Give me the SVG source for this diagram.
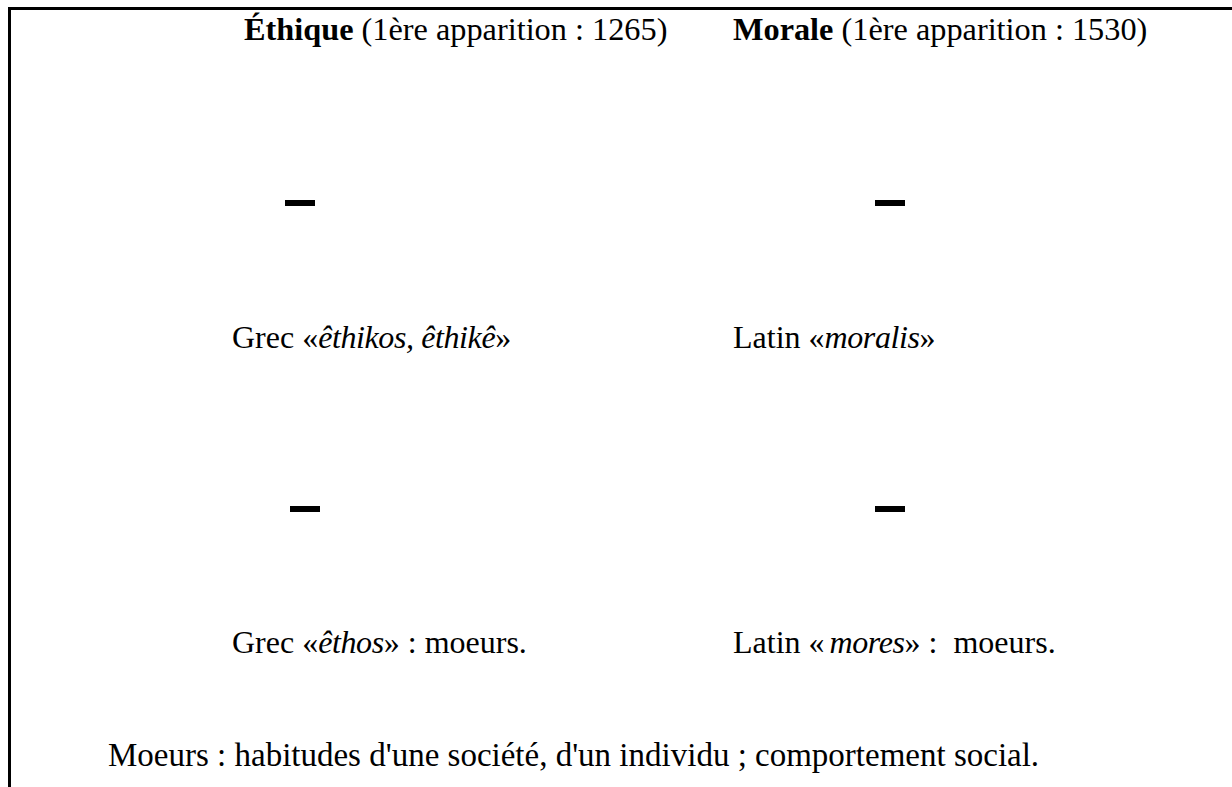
<svg xmlns="http://www.w3.org/2000/svg" width="1232" height="787" viewBox="0 0 1232 787">
<style>
  text { font-family: "Liberation Serif", "Times New Roman", serif; font-size: 31px; fill: #000; }
  .h { font-size: 32.3px; }
  .m { font-size: 32px; }
  .d { font-size: 33px; }
  .b { font-weight: bold; }
  .i { font-style: italic; letter-spacing: -0.4px; }
  .dash { fill: #000; }
  .border { fill: #000; }
</style>
<rect width="1232" height="787" fill="#fff"/>
<g id="frame">
  <rect class="border" x="8" y="7" width="1224" height="3"/>
  <rect class="border" x="8" y="7" width="3" height="780"/>
</g>
<g id="ethique">
  <text class="h" x="244" y="40"><tspan class="b">Éthique</tspan> (1ère apparition : 1265)</text>
</g>
<g id="morale">
  <text class="h" x="733" y="40"><tspan class="b">Morale</tspan> (1ère apparition : 1530)</text>
</g>
<g id="grec-ethikos">
  <text class="m" x="232" y="348">Grec «<tspan class="i">êthikos, êthikê</tspan>»</text>
</g>
<g id="latin-moralis">
  <text class="m" x="733" y="348">Latin «<tspan class="i">moralis</tspan>»</text>
</g>
<g id="grec-ethos">
  <text class="m" x="232" y="653">Grec «<tspan class="i">êthos</tspan>» : moeurs.</text>
</g>
<g id="latin-mores">
  <text class="m" x="733" y="653" xml:space="preserve">Latin «<tspan class="i" dx="5">mores</tspan>» :  moeurs.</text>
</g>
<g id="definition">
  <text class="d" x="108" y="766">Moeurs : habitudes d'une société, d'un individu ; comportement social.</text>
</g>
<g id="connectors">
  <rect class="dash" x="285" y="200" width="30" height="6"/>
  <rect class="dash" x="875" y="200" width="30" height="6"/>
  <rect class="dash" x="290" y="506" width="30" height="6"/>
  <rect class="dash" x="875" y="506" width="30" height="6"/>
</g>
</svg>
